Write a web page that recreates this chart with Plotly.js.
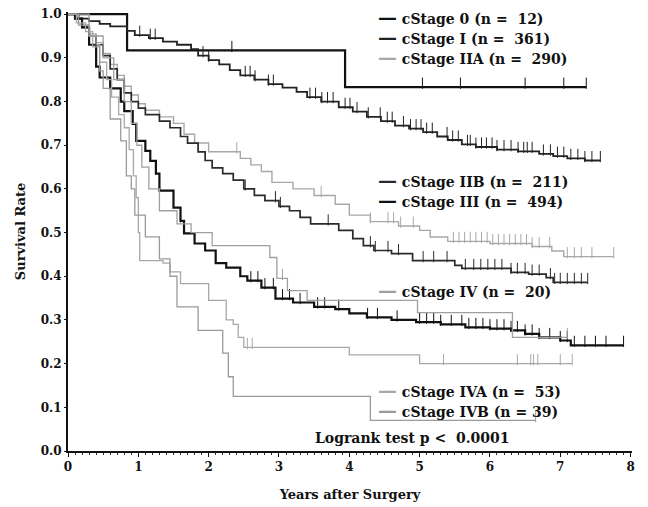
<!DOCTYPE html>
<html><head><meta charset="utf-8">
<script src="https://cdn.plot.ly/plotly-3.0.1.min.js"></script>
<style>body{margin:0;background:#fff}#plot{width:648px;height:507px}</style>
</head><body><div id="plot"></div>
<script>
// ---- data (years, survival) ----
const stage0_t = [0, 0.84, 3.94];
const stage0_s = [1, 0.917, 0.833];
const stage0_end = 7.37;
const stage0_cens = [2.33, 5.04, 5.58, 6.5, 7.05, 7.37];

const stageI_t = [0,0.15,0.3,0.45,0.6,0.84,0.95,1.15,1.35,1.55,1.75,1.85,2.0,2.15,2.3,2.45,2.65,2.85,3.05,3.25,3.4,3.6,3.85,4.05,4.25,4.45,4.65,4.85,5.05,5.25,5.4,5.6,5.8,6.1,6.4,6.7,6.9,7.1,7.35];
const stageI_s = [1,0.99,0.984,0.978,0.972,0.962,0.952,0.945,0.937,0.93,0.92,0.905,0.895,0.885,0.872,0.86,0.85,0.84,0.832,0.822,0.81,0.80,0.787,0.777,0.765,0.755,0.745,0.738,0.73,0.72,0.712,0.702,0.696,0.69,0.686,0.68,0.675,0.67,0.665];
const stageI_end = 7.57;
const stageI_cens = [1.02,1.17,1.24,1.92,2.0,2.52,2.59,2.66,2.85,2.92,3.44,3.52,3.61,3.69,3.77,3.94,4.01,4.11,4.27,4.44,4.54,4.61,4.77,4.87,4.95,5.02,5.1,5.18,5.39,5.47,5.55,5.68,5.72,5.8,5.88,5.95,6.03,6.1,6.2,6.3,6.4,6.48,6.53,6.6,6.76,6.86,6.96,7.05,7.15,7.25,7.35,7.45,7.57];

const stageIIA_t = [0,0.1,0.2,0.3,0.4,0.5,0.6,0.7,0.8,0.9,1.0,1.1,1.3,1.5,1.65,1.8,2.0,2.45,2.6,2.75,2.9,3.2,3.5,3.8,4.0,4.3,4.7,5.0,5.15,5.4,6.0,6.6,6.88,7.05];
const stageIIA_s = [1,0.99,0.975,0.955,0.935,0.91,0.885,0.86,0.835,0.815,0.795,0.78,0.765,0.75,0.725,0.705,0.685,0.67,0.655,0.64,0.615,0.60,0.585,0.565,0.54,0.525,0.515,0.505,0.49,0.48,0.475,0.468,0.458,0.445];
const stageIIA_end = 7.76;
const stageIIA_cens = [2.4,3.6,4.3,4.55,4.63,4.73,4.91,5.48,5.56,5.64,5.72,5.8,5.88,5.96,6.04,6.12,6.2,6.28,6.36,6.44,6.52,6.6,6.7,6.85,7.1,7.2,7.3,7.45,7.76];

const stageIIB_t = [0,0.1,0.2,0.3,0.4,0.5,0.6,0.7,0.8,0.9,1.0,1.1,1.3,1.45,1.6,1.7,1.85,1.95,2.05,2.2,2.35,2.5,2.65,2.8,3.0,3.15,3.3,3.45,3.85,4.05,4.2,4.35,4.6,4.9,5.5,5.6,6.3,6.55,6.8,6.9];
const stageIIB_s = [1,0.99,0.97,0.95,0.93,0.905,0.875,0.85,0.82,0.80,0.785,0.77,0.755,0.74,0.72,0.705,0.685,0.665,0.648,0.635,0.62,0.60,0.585,0.573,0.56,0.55,0.535,0.52,0.505,0.486,0.47,0.459,0.452,0.436,0.425,0.418,0.409,0.405,0.397,0.386];
const stageIIB_end = 7.39;
const stageIIB_cens = [2.52,2.95,3.02,3.7,4.3,4.37,4.55,4.7,5.05,5.2,5.39,5.65,5.77,5.87,5.97,6.07,6.17,6.3,6.39,6.5,6.6,6.7,6.86,6.92,7.0,7.1,7.2,7.3,7.39];

const stageIII_t = [0,0.1,0.2,0.3,0.4,0.45,0.6,0.75,0.8,0.92,0.97,1.1,1.17,1.25,1.3,1.5,1.6,1.65,1.8,1.95,2.1,2.25,2.45,2.55,2.75,2.95,3.2,3.5,3.8,4.0,4.25,4.6,4.95,5.3,5.65,6.0,6.3,6.5,6.7,7.0,7.15];
const stageIII_s = [1,0.99,0.97,0.93,0.88,0.855,0.83,0.80,0.778,0.749,0.71,0.687,0.664,0.635,0.596,0.557,0.527,0.498,0.475,0.459,0.43,0.42,0.40,0.39,0.374,0.349,0.34,0.33,0.325,0.315,0.306,0.30,0.295,0.29,0.283,0.28,0.276,0.268,0.26,0.253,0.242];
const stageIII_end = 7.9;
const stageIII_cens = [1.6,2.6,2.7,2.8,2.92,3.05,3.15,3.3,3.55,3.65,3.85,4.26,4.4,4.68,5.0,5.1,5.2,5.3,5.45,5.6,5.7,5.8,5.9,6.0,6.1,6.2,6.3,6.39,6.5,6.6,6.7,6.85,7.0,7.1,7.2,7.35,7.5,7.65,7.9];

const stageIV_t = [0,0.3,0.5,0.65,0.8,0.9,0.98,1.05,1.15,1.3,1.55,1.75,2.05,2.87,2.97,3.12,3.4,4.97,6.32];
const stageIV_s = [1,0.95,0.9,0.85,0.8,0.75,0.70,0.65,0.60,0.55,0.52,0.50,0.47,0.443,0.395,0.367,0.345,0.317,0.26];
const stageIV_end = 7.1;
const stageIV_cens = [3.05, 7.1];

const stageIVA_t = [0,0.12,0.25,0.35,0.45,0.55,0.62,0.72,0.8,0.87,0.93,0.97,1.0,1.02,1.35,1.45,1.6,2.0,2.25,2.35,2.42,2.5,4.0,5.0];
const stageIVA_s = [1,0.98,0.96,0.925,0.89,0.85,0.81,0.77,0.74,0.69,0.63,0.58,0.50,0.436,0.43,0.41,0.383,0.345,0.30,0.29,0.26,0.237,0.22,0.20];
const stageIVA_end = 7.17;
const stageIVA_cens = [2.55,2.62,5.34,6.39,6.58,6.62,6.68,7.0,7.17];

const stageIVB_t = [0,0.15,0.3,0.4,0.45,0.5,0.6,0.75,0.83,0.9,0.95,1.1,1.3,1.45,1.55,1.85,2.2,2.28,2.35,4.3];
const stageIVB_s = [1,0.975,0.95,0.93,0.87,0.83,0.76,0.71,0.63,0.60,0.54,0.49,0.44,0.40,0.33,0.276,0.224,0.17,0.125,0.07];
const stageIVB_end = 6.65;
const stageIVB_cens = [6.65];

const xTickVals = [0,1,2,3,4,5,6,7,8];
const yTickVals = [0,0.1,0.2,0.3,0.4,0.5,0.6,0.7,0.8,0.9,1.0];

// ---- styling ----
const groups = [
  {t: stage0_t, s: stage0_s, end: stage0_end, c: stage0_cens, color:'#111', w:2.2, label:'cStage 0 (n =  12)'},
  {t: stageI_t, s: stageI_s, end: stageI_end, c: stageI_cens, color:'#222', w:1.8, label:'cStage I (n =  361)'},
  {t: stageIIA_t, s: stageIIA_s, end: stageIIA_end, c: stageIIA_cens, color:'#a8a8a8', w:1.4, label:'cStage IIA (n =  290)'},
  {t: stageIIB_t, s: stageIIB_s, end: stageIIB_end, c: stageIIB_cens, color:'#2a2a2a', w:1.7, label:'cStage IIB (n =  211)'},
  {t: stageIII_t, s: stageIII_s, end: stageIII_end, c: stageIII_cens, color:'#111', w:2.2, label:'cStage III (n =  494)'},
  {t: stageIV_t, s: stageIV_s, end: stageIV_end, c: stageIV_cens, color:'#a0a0a0', w:1.3, label:'cStage IV (n =  20)'},
  {t: stageIVA_t, s: stageIVA_s, end: stageIVA_end, c: stageIVA_cens, color:'#a8a8a8', w:1.3, label:'cStage IVA (n =  53)'},
  {t: stageIVB_t, s: stageIVB_s, end: stageIVB_end, c: stageIVB_cens, color:'#9a9a9a', w:1.3, label:'cStage IVB (n = 39)'}
];

function stepAt(t, s, x){ let v = s[0]; for(let i=0;i<t.length;i++){ if(t[i] <= x) v = s[i]; } return v; }

const traces = [];
groups.forEach(g => {
  traces.push({x: g.t.concat([g.end]), y: g.s.concat([g.s[g.s.length-1]]), mode:'lines',
    line:{shape:'hv', color:g.color, width:g.w}, hoverinfo:'skip', showlegend:false});
  traces.push({x: g.c, y: g.c.map(x => stepAt(g.t, g.s, x) + 0.009), mode:'markers',
    marker:{symbol:'line-ns', size:8, line:{width:1, color:g.color}, color:g.color}, hoverinfo:'skip', showlegend:false});
});

const fnt = {family:'DejaVu Serif', size:12, color:'#111', weight:'bold'};
const legFnt = {family:'DejaVu Serif', size:14, color:'#111', weight:'bold'};
const titleFnt = {family:'DejaVu Serif', size:13, color:'#111', weight:'bold'};
const legPos = [0.989, 0.943, 0.897, 0.617, 0.572, 0.367, 0.139, 0.093];
const annotations = groups.map((g,i) => ({
  xref:'paper', yref:'paper', x:0.546, y:legPos[i], xanchor:'left', yanchor:'middle', showarrow:false,
  text:"<span style='color:"+g.color+";font-size:19px'>—</span> "+g.label, font:legFnt
}));
annotations.push({xref:'paper', yref:'paper', x:0.61, y:0.03, xanchor:'center', yanchor:'middle', showarrow:false,
  text:'Logrank test p <  0.0001', font:legFnt});

const layout = {
  width:648, height:507, margin:{l:68, r:16, t:12, b:56},
  paper_bgcolor:'#fff', plot_bgcolor:'#fff', font:fnt, showlegend:false,
  xaxis:{range:[0,8.02], tickvals:xTickVals, ticktext:xTickVals.map(String), showgrid:false, zeroline:false,
    showline:true, linecolor:'#111', linewidth:2, ticks:'outside', ticklen:4, tickcolor:'#111',
    minor:{dtick:0.1, ticks:'outside', ticklen:2, tickcolor:'#333', showgrid:false},
    tickfont:fnt, title:{text:'Years after Surgery', font:titleFnt, standoff:16}},
  yaxis:{range:[0,1.005], tickvals:yTickVals, ticktext:yTickVals.map(v=>v.toFixed(1)), showgrid:false, zeroline:false,
    showline:true, linecolor:'#111', linewidth:2, ticks:'outside', ticklen:2, tickcolor:'#111',
    tickfont:fnt, title:{text:'Survival Rate', font:titleFnt, standoff:12}},
  annotations: annotations
};
Plotly.newPlot('plot', traces, layout, {displayModeBar:false, staticPlot:true});
</script></body></html>
